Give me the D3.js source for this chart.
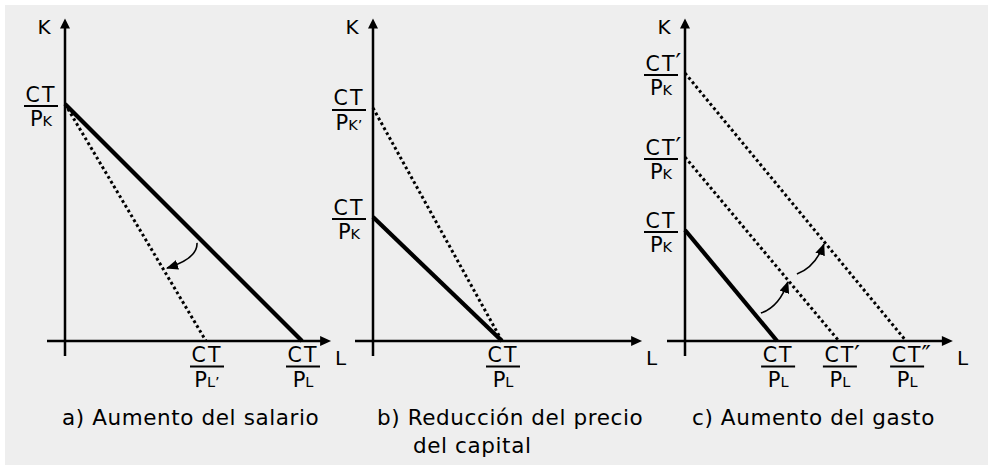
<!DOCTYPE html>
<html>
<head>
<meta charset="utf-8">
<script src="https://cdn.jsdelivr.net/npm/d3@7"></script>
<style>
    body { margin: 0; background: #fff; }
    text { font-family: "DejaVu Sans", Verdana, sans-serif; fill: #000; }
</style>
</head>
<body>
<div id="viz"></div>
<script>
// panels and their budget lines (intercepts in axis units, 0..100)
const panels = ["a", "b", "c"];

const linesA = [
    { k: 79, l: 79, dotted: false },
    { k: 79, l: 47, dotted: true }
];
const linesB = [
    { k: 41.3, l: 43, dotted: false },
    { k: 77.7, l: 43, dotted: true }
];
const linesC = [
    { k: 37, l: 30.7, dotted: false },
    { k: 61.3, l: 51.3, dotted: true },
    { k: 89.3, l: 73.7, dotted: true }
];

// axis labels on K axis: value, numerator primes, denominator subscript, denominator prime
const kLabelsA = [{ v: 79, num: "", sub: "K", den: "" }];
const kLabelsB = [{ v: 77.7, num: "", sub: "K", den: "’" }, { v: 41.3, num: "", sub: "K", den: "" }];
const kLabelsC = [{ v: 89.3, num: "′", sub: "K", den: "" }, { v: 61.3, num: "′", sub: "K", den: "" }, { v: 37, num: "", sub: "K", den: "" }];

const lLabelsA = [{ v: 47, num: "", sub: "L", den: "’" }, { v: 79, num: "", sub: "L", den: "" }];
const lLabelsB = [{ v: 43, num: "", sub: "L", den: "" }];
const lLabelsC = [{ v: 30.7, num: "", sub: "L", den: "" }, { v: 51.3, num: "′", sub: "L", den: "" }, { v: 73.7, num: "″", sub: "L", den: "" }];

// curved arrows: start, control, end
const arrowsA = [[44, 32.7, 44.3, 27.5, 34, 24.3]];
const arrowsB = [];
const arrowsC = [[25.3, 9.3, 31.5, 11.5, 34.3, 19.7], [37.3, 22.3, 43.5, 24.7, 46.3, 32.3]];

const xAxisMax = [88.7, 89.7, 89.3];
const yAxisMax = 107.5;

const captions = [
    ["a) Aumento del salario"],
    ["b) Reducción del precio", "del capital"],
    ["c) Aumento del gasto"]
];

const allLines = [linesA, linesB, linesC];
const allK = [kLabelsA, kLabelsB, kLabelsC];
const allL = [lLabelsA, lLabelsB, lLabelsC];
const allArrows = [arrowsA, arrowsB, arrowsC];

let width = 988,
    height = 465;

let svg = d3.select("#viz").append("svg")
    .attr("width", width)
    .attr("height", height);

svg.append("rect")
    .attr("x", 5).attr("y", 5)
    .attr("width", width - 5).attr("height", height - 5)
    .attr("fill", "#eeeeee");

let defs = svg.append("defs");
defs.append("marker")
    .attr("id", "head")
    .attr("markerUnits", "userSpaceOnUse")
    .attr("viewBox", "0 0 12 10")
    .attr("refX", 11).attr("refY", 5)
    .attr("markerWidth", 12).attr("markerHeight", 10)
    .attr("orient", "auto")
    .append("path")
    .attr("d", "M0,0 L12,5 L0,10 Z")
    .attr("fill", "#000");

let originX = d3.scaleOrdinal().domain(panels).range([65, 373, 685]);
let captionDx = [-3, 4, 7];

function fraction(g, cx, lineY, lab) {
    let fg = g.append("g").attr("transform", "translate(" + cx + "," + lineY + ")");
    let num = fg.append("text")
        .attr("y", -4.5)
        .attr("text-anchor", "middle")
        .style("font-size", "20.5px")
        .style("letter-spacing", "2px")
        .text("CT");
    let w = num.node().getComputedTextLength();
    if (lab.num) {
        fg.append("text")
            .attr("x", w / 2 - 1)
            .attr("y", -4)
            .style("font-size", "25px")
            .text(lab.num);
    }
    fg.append("line")
        .attr("x1", -17).attr("x2", 17)
        .attr("stroke", "#000").attr("stroke-width", 2);
    let den = fg.append("text")
        .attr("y", 20)
        .attr("text-anchor", "middle")
        .style("font-size", "21px");
    den.append("tspan").text("P");
    den.append("tspan").style("font-size", "14.5px").text(lab.sub + lab.den);
}

panels.forEach(function (p, i) {
    let ox = originX(p);
    let x = d3.scaleLinear().domain([0, 100]).range([ox, ox + 300]);
    let y = d3.scaleLinear().domain([0, 100]).range([341, 41]);
    let g = svg.append("g").attr("class", "panel-" + p);

    // axes
    g.append("line")
        .attr("x1", x(0)).attr("x2", x(0))
        .attr("y1", y(-5)).attr("y2", y(yAxisMax) + 8)
        .attr("stroke", "#000").attr("stroke-width", 2.5);
    g.append("path")
        .attr("d", "M" + (x(0) - 5) + "," + (y(yAxisMax) + 10) + " L" + x(0) + "," + y(yAxisMax) + " L" + (x(0) + 5) + "," + (y(yAxisMax) + 10) + " Z")
        .attr("fill", "#000");
    g.append("line")
        .attr("x1", x(-6)).attr("x2", x(xAxisMax[i]) - 8)
        .attr("y1", y(0)).attr("y2", y(0))
        .attr("stroke", "#000").attr("stroke-width", 2.5);
    g.append("path")
        .attr("d", "M" + (x(xAxisMax[i]) - 11) + "," + (y(0) - 5) + " L" + x(xAxisMax[i]) + "," + y(0) + " L" + (x(xAxisMax[i]) - 11) + "," + (y(0) + 5) + " Z")
        .attr("fill", "#000");

    g.append("text")
        .attr("x", x(0) - 21).attr("y", 34)
        .attr("text-anchor", "middle")
        .style("font-size", "20px")
        .text("K");
    g.append("text")
        .attr("x", x(xAxisMax[i]) + 4).attr("y", 365)
        .style("font-size", "20px")
        .text("L");

    // budget lines
    g.selectAll(".budget")
        .data(allLines[i])
        .enter()
        .append("line").classed("budget", true)
        .attr("x1", x(0)).attr("y1", function (d) { return y(d.k); })
        .attr("x2", function (d) { return x(d.l); }).attr("y2", y(0))
        .attr("stroke", "#000")
        .attr("stroke-width", function (d) { return d.dotted ? 3 : 4.2; })
        .attr("stroke-dasharray", function (d) { return d.dotted ? "2.8,2.8" : null; });

    // labels
    allK[i].forEach(function (lab) {
        fraction(g, x(0) - 24, y(lab.v) + 2, lab);
    });
    allL[i].forEach(function (lab) {
        fraction(g, x(lab.v) + 1, 366.5, lab);
    });

    // arrows
    g.selectAll(".arrow")
        .data(allArrows[i])
        .enter()
        .append("path").classed("arrow", true)
        .attr("d", function (d) {
            return "M" + x(d[0]) + "," + y(d[1]) + " Q" + x(d[2]) + "," + y(d[3]) + " " + x(d[4]) + "," + y(d[5]);
        })
        .attr("fill", "none")
        .attr("stroke", "#000")
        .attr("stroke-width", 1.6)
        .attr("marker-end", "url(#head)");

    // caption
    captions[i].forEach(function (c, j) {
        g.append("text")
            .attr("x", ox + captionDx[i] + (j > 0 ? 36 : 0))
            .attr("y", 425 + j * 28)
            .style("font-size", "21.5px")
            .style("letter-spacing", "0.6px")
            .text(c);
    });
});
</script>
</body>
</html>
